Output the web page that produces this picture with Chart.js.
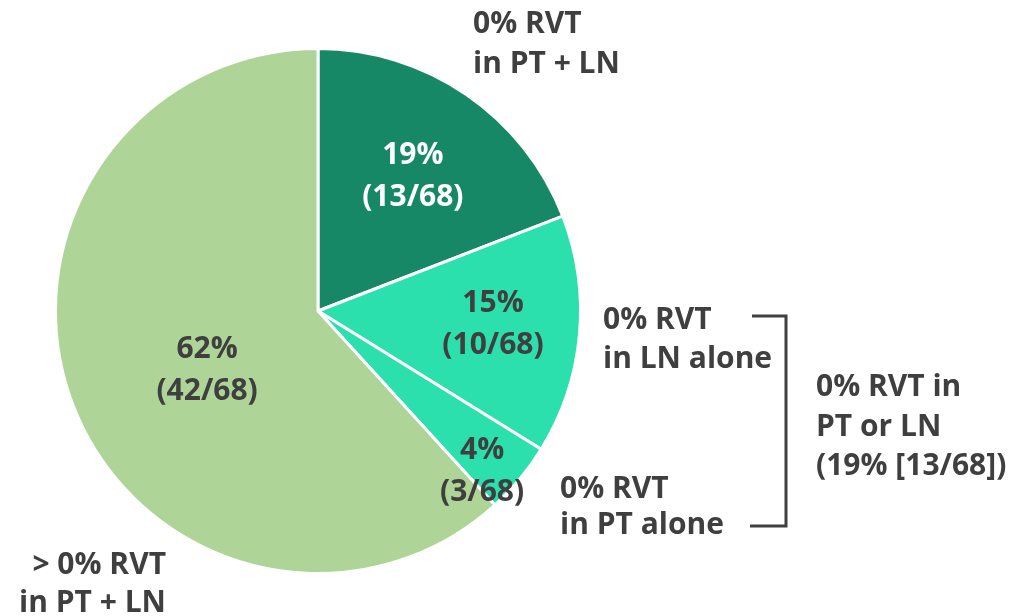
<!DOCTYPE html>
<html>
<head>
<meta charset="utf-8">
<script src="https://cdn.jsdelivr.net/npm/chart.js@4/dist/chart.umd.min.js"></script>
<style>
  html, body { margin: 0; padding: 0; background: #ffffff; }
  #wrap { position: relative; width: 1022px; height: 616px; }
</style>
</head>
<body>
<div id="wrap"><canvas id="c"></canvas></div>
<script>
// ---- data ----
const categories = ["0% RVT in PT + LN", "0% RVT in LN alone", "0% RVT in PT alone", "> 0% RVT in PT + LN"];
const counts = [13, 10, 3, 42];
const total = 68;
const percentLabels = ["19%", "15%", "4%", "62%"];
const countLabels = ["(13/68)", "(10/68)", "(3/68)", "(42/68)"];
const sliceColors = ["#168866", "#2BE0AD", "#2BE0AD", "#AED597"];
const innerTextColors = ["#ffffff", "#3f3f3f", "#3f3f3f", "#3f3f3f"];

// label placement: angle (deg clockwise from top) and fraction of radius
const labelPlacement = [
  { angle: 34.8, r: 0.633 },
  { angle: 93.6, r: 0.668 },
  { angle: 134, r: 0.869 },
  { angle: 242.8, r: 0.475 }
];

const FONT = "'Open Sans', 'DejaVu Sans', sans-serif";
const TEXT = "#3f3f3f";
const FONT_SIZE = 30;
const CAP = FONT_SIZE * 0.714;

const outerLabels = [
  { x: 473, ys: [22, 62.5], lines: ["0% RVT", "in PT + LN"], align: "left" },
  { x: 603, ys: [318, 357], lines: ["0% RVT", "in LN alone"], align: "left" },
  { x: 560, ys: [487, 523], lines: ["0% RVT", "in PT alone"], align: "left" },
  { x: 816, ys: [385, 425, 464], lines: ["0% RVT in", "PT or LN", "(19% [13/68])"], align: "left" },
  { x: 166, ys: [563.5, 601], lines: ["> 0% RVT", "in PT + LN"], align: "right" }
];

const labelPlugin = {
  id: "labels",
  afterDatasetsDraw(chart) {
    const ctx = chart.ctx;
    const meta = chart.getDatasetMeta(0);
    ctx.save();
    ctx.textBaseline = "alphabetic";
    ctx.textAlign = "center";
    ctx.font = "700 " + FONT_SIZE + "px " + FONT;
    meta.data.forEach((arc, i) => {
      const p = labelPlacement[i];
      const a = (p.angle - 90) * Math.PI / 180;
      const rr = arc.outerRadius * p.r;
      const cx = arc.x + Math.cos(a) * rr;
      const cy = arc.y + Math.sin(a) * rr;
      ctx.fillStyle = innerTextColors[i];
      ctx.fillText(percentLabels[i], cx, cy - 21 + CAP / 2);
      ctx.fillText(countLabels[i], cx, cy + 21 + CAP / 2);
    });
    // outer labels
    ctx.fillStyle = TEXT;
    outerLabels.forEach(l => {
      ctx.textAlign = l.align;
      l.lines.forEach((t, k) => ctx.fillText(t, l.x, l.ys[k] + CAP / 2));
    });
    // bracket
    ctx.strokeStyle = "#404040";
    ctx.lineWidth = 3;
    ctx.beginPath();
    ctx.moveTo(752, 316);
    ctx.lineTo(786, 316);
    ctx.lineTo(786, 526);
    ctx.lineTo(750, 526);
    ctx.stroke();
    ctx.restore();
  }
};

new Chart(document.getElementById("c"), {
  type: "pie",
  data: {
    labels: categories,
    datasets: [{
      data: counts,
      backgroundColor: sliceColors,
      borderColor: "#ffffff",
      borderWidth: 3
    }]
  },
  options: {
    responsive: true,
    maintainAspectRatio: false,
    animation: false,
    rotation: 0,
    layout: { padding: { left: 54, right: 440, top: 47, bottom: 41 } },
    plugins: { legend: { display: false }, tooltip: { enabled: false } }
  },
  plugins: [labelPlugin]
});
</script>
</body>
</html>
